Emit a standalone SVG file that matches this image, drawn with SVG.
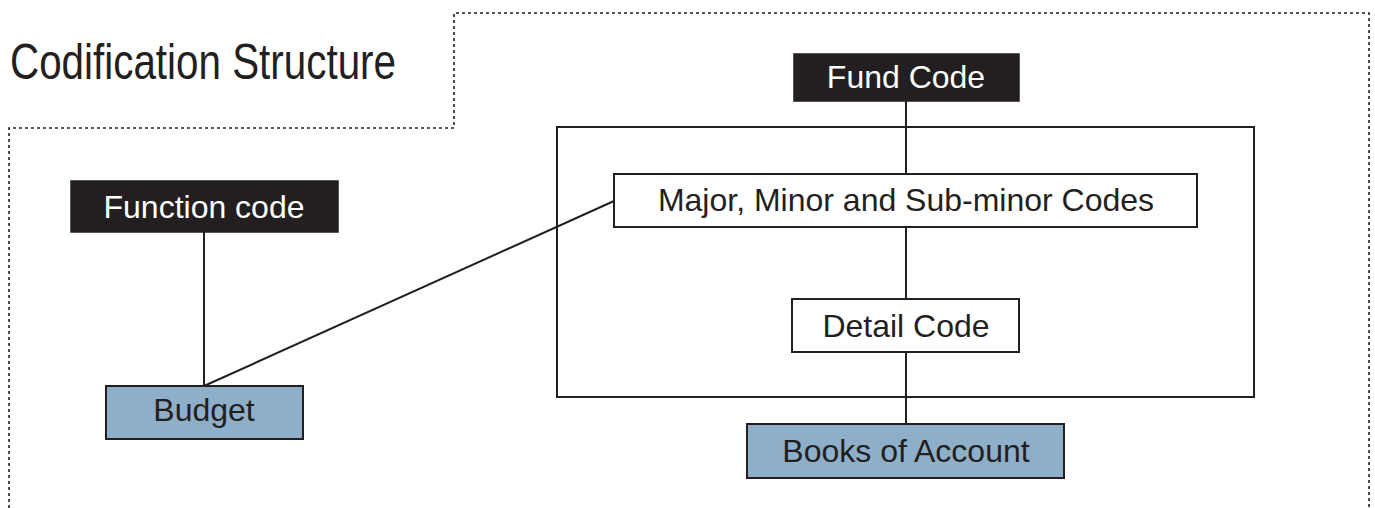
<svg xmlns="http://www.w3.org/2000/svg" width="1375" height="508" viewBox="0 0 1375 508">
<style>
.lbl{font-family:"Liberation Sans",Arial,sans-serif;font-size:32px;text-anchor:middle;fill:#231f20}
.inv{fill:#ffffff}
.dark{fill:#231f20;stroke:#231f20;stroke-width:1.5}
.white{fill:#ffffff;stroke:#231f20;stroke-width:2}
.blue{fill:#8eafc9;stroke:#231f20;stroke-width:2}
.conn{stroke:#231f20;stroke-width:2;fill:none}
.dash{stroke:#231f20;stroke-width:1.6;fill:none;stroke-dasharray:3 3}
</style>
<g id="frame">
<path class="dash" d="M9,508 V128 H454 V13 H1369 V508"/>
</g>
<text id="title" x="10" y="79" style="font-family:'Liberation Sans',Arial,sans-serif;font-size:50px;fill:#231f20" textLength="386" lengthAdjust="spacingAndGlyphs">Codification Structure</text>
<g id="group-box">
<rect class="conn" x="557" y="127" width="697" height="270"/>
</g>
<g id="connectors">
<line class="conn" x1="906" y1="101" x2="906" y2="174"/>
<line class="conn" x1="906" y1="227" x2="906" y2="299"/>
<line class="conn" x1="906" y1="352" x2="906" y2="424"/>
<line class="conn" x1="204" y1="232" x2="204" y2="386"/>
<line class="conn" x1="204" y1="386" x2="614" y2="201"/>
</g>
<g id="fund-code">
<rect class="dark" x="794" y="54" width="225" height="47"/>
<text class="lbl inv" x="906" y="88">Fund Code</text>
</g>
<g id="major-minor">
<rect class="white" x="614" y="174" width="583" height="53"/>
<text class="lbl" x="906" y="211">Major, Minor and Sub-minor Codes</text>
</g>
<g id="detail-code">
<rect class="white" x="792" y="299" width="227" height="53"/>
<text class="lbl" x="906" y="337">Detail Code</text>
</g>
<g id="books-of-account">
<rect class="blue" x="747" y="424" width="317" height="54"/>
<text class="lbl" x="906" y="462">Books of Account</text>
</g>
<g id="function-code">
<rect class="dark" x="71" y="181" width="267" height="51"/>
<text class="lbl inv" x="204" y="218">Function code</text>
</g>
<g id="budget">
<rect class="blue" x="106" y="386" width="197" height="53"/>
<text class="lbl" x="204" y="421">Budget</text>
</g>
</svg>
